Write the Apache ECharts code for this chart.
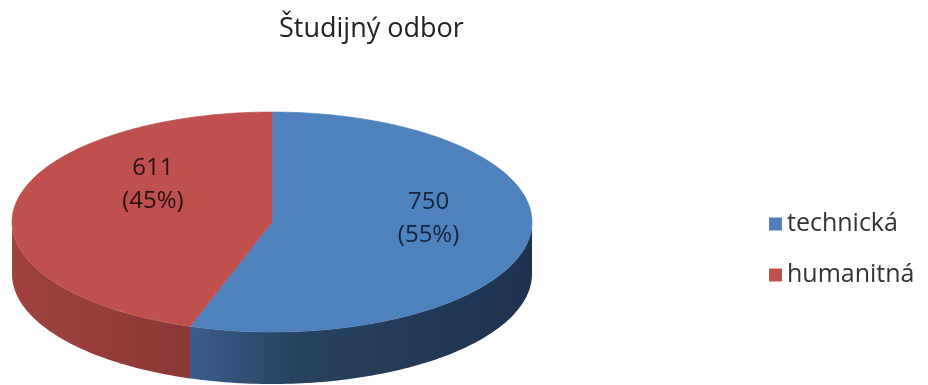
<!DOCTYPE html>
<html>
<head>
<meta charset="utf-8">
<title>Študijný odbor</title>
<script src="https://cdn.jsdelivr.net/npm/echarts@6/dist/echarts.min.js"></script>
<style>
  html, body { margin: 0; padding: 0; background: #ffffff; }
  #chart { width: 928px; height: 385px; }
</style>
</head>
<body>
<div id="chart"></div>
<script>
// Study field counts
const categories = ['technická', 'humanitná'];
const values = [750, 611];

// Face and wall colours per slice
const topColors = ['#4F81BD', '#C0504D'];
const wallColors = [
  [['#3a5d8c', 0], ['#28435f', 0.3], ['#1d324e', 1]],
  [['#a0423f', 0], ['#8b3836', 1]]
];
const labelColors = ['#15253c', '#2a1111'];

// Disc geometry (pixels) and label placement per slice
const disc = { cx: 272, cy: 222, rx: 260, ry: 110, depth: 52 };
const labelRadius = [0.61, 0.464];
const labelLift = [-14, -29];

const FONT = 'Open Sans';
const total = values.reduce((a, b) => a + b, 0);

function ellipsePoint(phi, dy) {
  return [disc.cx + disc.rx * Math.cos(phi), disc.cy + disc.ry * Math.sin(phi) + (dy || 0)];
}

function arcPoints(a0, a1, dy) {
  const n = Math.max(8, Math.ceil(Math.abs(a1 - a0) / 0.02));
  const pts = [];
  for (let i = 0; i <= n; i++) {
    pts.push(ellipsePoint(a0 + (a1 - a0) * i / n, dy));
  }
  return pts;
}

function sliceAngles(idx) {
  let before = 0;
  for (let i = 0; i < idx; i++) before += values[i];
  const start = -Math.PI / 2 + 2 * Math.PI * before / total;
  const end = start + 2 * Math.PI * values[idx] / total;
  return [start, end];
}

function makeRenderer(idx) {
  return function (params, api) {
    const [start, end] = sliceAngles(idx);
    const children = [];

    // front wall: only the part of the rim facing the viewer (sin > 0)
    for (let k = -1; k <= 1; k++) {
      const lo = Math.max(start, 2 * Math.PI * k);
      const hi = Math.min(end, 2 * Math.PI * k + Math.PI);
      if (hi > lo) {
        const top = arcPoints(lo, hi, 0);
        const bottom = arcPoints(hi, lo, disc.depth);
        children.push({
          type: 'polygon',
          shape: { points: top.concat(bottom) },
          style: {
            fill: new echarts.graphic.LinearGradient(0, 0, 1, 0,
              wallColors[idx].map(s => ({ offset: s[1], color: s[0] }))),
            stroke: null
          }
        });
      }
    }

    // top face
    const face = [[disc.cx, disc.cy]].concat(arcPoints(start, end, 0));
    children.push({
      type: 'polygon',
      shape: { points: face },
      style: { fill: topColors[idx], stroke: topColors[idx], lineWidth: 0.6 }
    });

    // value label
    const mid = (start + end) / 2;
    const r = labelRadius[idx];
    const pct = Math.round(values[idx] / total * 100);
    children.push({
      type: 'text',
      style: {
        text: values[idx] + '\n(' + pct + '%)',
        x: disc.cx + disc.rx * r * Math.cos(mid),
        y: disc.cy + disc.ry * r * Math.sin(mid) + labelLift[idx],
        align: 'center',
        verticalAlign: 'middle',
        fontFamily: FONT,
        fontSize: 24,
        lineHeight: 33,
        fill: labelColors[idx]
      }
    });

    return { type: 'group', children: children };
  };
}

const chart = echarts.init(document.getElementById('chart'), null, { renderer: 'canvas' });

chart.setOption({
  animation: false,
  backgroundColor: '#ffffff',
  title: {
    text: 'Študijný odbor',
    left: 274,
    top: 11,
    textStyle: { fontFamily: FONT, fontSize: 27, fontWeight: 'normal', color: '#222222' }
  },
  legend: {
    orient: 'vertical',
    left: 764,
    top: 205,
    icon: 'rect',
    itemWidth: 13,
    itemHeight: 13,
    itemGap: 23,
    itemStyle: { borderWidth: 0 },
    data: categories,
    textStyle: { fontFamily: FONT, fontSize: 25, lineHeight: 28, color: '#333333' }
  },
  series: categories.map((name, i) => ({
    type: 'custom',
    name: name,
    coordinateSystem: 'none',
    itemStyle: { color: topColors[i] },
    data: [values[i]],
    renderItem: makeRenderer(i)
  }))
});
</script>
</body>
</html>
